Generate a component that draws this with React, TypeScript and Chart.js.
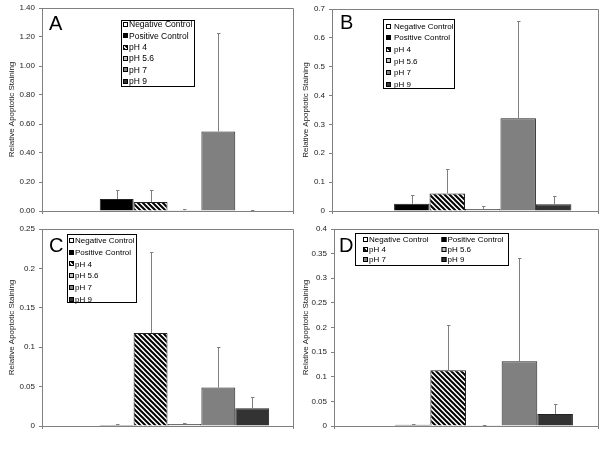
import React, { useEffect, useRef } from "react";
import { Chart, registerables } from "chart.js";

Chart.register(...registerables);

const categories = [""];
const seriesNames = ["Negative Control", "Positive Control", "pH 4", "pH 5.6", "pH 7", "pH 9"];

const valuesA = [0, 0.083, 0.062, 0.005, 0.549, 0.003];
const errorsA = [0, 0.065, 0.086, 0.012, 0.676, 0.005];
const ticksA = [0, 0.2, 0.4, 0.6, 0.8, 1.0, 1.2, 1.4];

const valuesB = [0, 0.025, 0.061, 0.007, 0.321, 0.023];
const errorsB = [0, 0.03, 0.085, 0.011, 0.339, 0.028];
const ticksB = [0, 0.1, 0.2, 0.3, 0.4, 0.5, 0.6, 0.7];

const valuesC = [0, 0.0013, 0.118, 0.0025, 0.0487, 0.0225];
const errorsC = [0, 0.0012, 0.103, 0.0015, 0.051, 0.0148];
const ticksC = [0, 0.05, 0.1, 0.15, 0.2, 0.25];

const valuesD = [0, 0.0027, 0.113, 0.0014, 0.1315, 0.0244];
const errorsD = [0, 0.002, 0.092, 0.0013, 0.2105, 0.0196];
const ticksD = [0, 0.05, 0.1, 0.15, 0.2, 0.25, 0.3, 0.35, 0.4];

const FONT = "Arial, 'Liberation Sans', sans-serif";
const AXIS_GRAY = "#808080";

function makeHatch(): CanvasPattern | string {
  const s = 5;
  const c = document.createElement("canvas");
  c.width = s;
  c.height = s;
  const g = c.getContext("2d");
  if (!g) return "#888";
  g.fillStyle = "#fff";
  g.fillRect(0, 0, s, s);
  g.strokeStyle = "#000";
  g.lineWidth = 2;
  g.beginPath();
  for (const k of [-s, 0, s]) {
    g.moveTo(k - 1, -1);
    g.lineTo(k + s + 1, s + 1);
  }
  g.stroke();
  const p = g.createPattern(c, "repeat");
  return p || "#888";
}

function fills(): (string | CanvasPattern)[] {
  return ["#ffffff", "#000000", makeHatch(), "#c0c0c0", "#808080", "#333333"];
}

const decorPlugin = {
  id: "panelDecor",
  afterDatasetsDraw(chart: any, _args: any, opts: any) {
    const ctx: CanvasRenderingContext2D = chart.ctx;
    const { left, top, right, bottom } = chart.chartArea;
    ctx.save();
    ctx.strokeStyle = AXIS_GRAY;
    ctx.lineWidth = 1;
    ctx.beginPath();
    ctx.moveTo(Math.round(left), Math.round(top) + 0.5);
    ctx.lineTo(Math.round(right) + 0.5, Math.round(top) + 0.5);
    ctx.lineTo(Math.round(right) + 0.5, Math.round(bottom));
    ctx.stroke();

    const ys = chart.scales.y;
    chart.data.datasets.forEach((ds: any, i: number) => {
      const err = opts.errors[i];
      if (!err) return;
      const bar = chart.getDatasetMeta(i).data[0];
      const x = Math.round(bar.x) + 0.5;
      const y0 = bar.y;
      const y1 = Math.round(ys.getPixelForValue(ds.data[0] + err)) + 0.5;
      ctx.strokeStyle = AXIS_GRAY;
      ctx.beginPath();
      ctx.moveTo(x, y0);
      ctx.lineTo(x, y1);
      ctx.moveTo(x - 1.5, y1);
      ctx.lineTo(x + 2, y1);
      ctx.stroke();
    });

    const lg = opts.legend;
    ctx.fillStyle = "#fff";
    ctx.fillRect(lg.x, lg.y, lg.w, lg.h);
    ctx.strokeStyle = "#000";
    ctx.strokeRect(lg.x + 0.5, lg.y + 0.5, lg.w, lg.h);
    ctx.font = `${lg.font}px ${FONT}`;
    ctx.textBaseline = "middle";
    ctx.textAlign = "left";
    const fillList = chart.data.datasets.map((d: any) => d.backgroundColor);
    seriesNames.forEach((name, i) => {
      const col = i % lg.cols;
      const row = Math.floor(i / lg.cols);
      const sx = lg.colX[col];
      const cy = lg.rowStart + row * lg.rowStep;
      const sz = 5;
      ctx.fillStyle = fillList[i];
      ctx.fillRect(sx, Math.round(cy - sz / 2), sz, sz);
      ctx.strokeStyle = "#000";
      ctx.strokeRect(sx + 0.5, Math.round(cy - sz / 2) + 0.5, sz - 1, sz - 1);
      ctx.fillStyle = "#000";
      ctx.fillText(name, sx + sz + lg.gap, cy + 0.5);
    });

    ctx.font = `20px ${FONT}`;
    ctx.textBaseline = "alphabetic";
    ctx.fillStyle = "#000";
    ctx.fillText(opts.letter, opts.letterX, opts.letterY);
    ctx.restore();
  },
};

type PanelProps = {
  values: number[];
  errors: number[];
  ticks: number[];
  fmt: (v: number) => string;
  left: number;
  top: number;
  right: number;
  bottom: number;
  catPct: number;
  titlePad: number;
  letter: string;
  letterX: number;
  letterY: number;
  legend: any;
};

const W = 300;
const H = 225;

function Panel(p: PanelProps) {
  const ref = useRef<HTMLCanvasElement>(null);
  useEffect(() => {
    if (!ref.current) return;
    const f = fills();
    const chart = new Chart(ref.current, {
      type: "bar",
      data: {
        labels: categories,
        datasets: seriesNames.map((name, i) => ({
          label: name,
          data: [p.values[i]],
          backgroundColor: f[i] as any,
          borderColor: "#222",
          borderWidth: 1,
          barPercentage: 1,
          categoryPercentage: p.catPct,
        })),
      },
      options: {
        responsive: false,
        animation: false,
        events: [],
        layout: { padding: { left: 0, top: p.top, right: W - p.right, bottom: 0 } },
        plugins: {
          legend: { display: false },
          tooltip: { enabled: false },
          panelDecor: {
            errors: p.errors,
            legend: p.legend,
            letter: p.letter,
            letterX: p.letterX,
            letterY: p.letterY,
          },
        } as any,
        scales: {
          x: {
            ticks: { display: false },
            grid: {
              offset: true,
              drawOnChartArea: false,
              drawTicks: true,
              tickLength: 3,
              color: AXIS_GRAY,
            },
            border: { display: true, color: AXIS_GRAY },
            afterFit: (s: any) => {
              s.height = H - p.bottom;
              s.paddingLeft = 0;
              s.paddingRight = 0;
            },
          },
          y: {
            min: 0,
            max: p.ticks[p.ticks.length - 1],
            afterBuildTicks: (s: any) => {
              s.ticks = p.ticks.map((v) => ({ value: v }));
            },
            ticks: {
              callback: (v: any) => p.fmt(Number(v)),
              font: { size: 8, family: FONT },
              color: "#222",
              padding: 4,
            },
            grid: {
              drawOnChartArea: false,
              drawTicks: true,
              tickLength: 3,
              color: AXIS_GRAY,
            },
            border: { display: true, color: AXIS_GRAY },
            title: {
              display: true,
              text: "Relative Apoptotic Staining",
              font: { size: 8, family: FONT },
              color: "#222",
              padding: { top: p.titlePad, bottom: 2 },
            },
            afterFit: (s: any) => {
              s.width = p.left;
              s.paddingTop = 0;
              s.paddingBottom = 0;
            },
          },
        },
      },
      plugins: [decorPlugin as any],
    });
    return () => chart.destroy();
  }, []);
  return <canvas ref={ref} width={W} height={H} style={{ display: "block", width: W, height: H }} />;
}

const fmt2 = (v: number) => v.toFixed(2);
const fmtShort = (v: number) => String(Number(v.toFixed(3)));

export default function App() {
  return (
    <div style={{ position: "absolute", left: 0, top: 0, width: 600, height: 450, background: "#fff" }}>
      <div style={{ position: "absolute", left: 0, top: 0 }}>
        <Panel
          values={valuesA}
          errors={errorsA}
          ticks={ticksA}
          fmt={fmt2}
          left={42}
          top={8}
          right={293}
          bottom={211}
          catPct={0.81}
          titlePad={7}
          letter="A"
          letterX={49}
          letterY={30}
          legend={{ x: 121, y: 20, w: 73, h: 66, cols: 1, colX: [123], rowStart: 24.5, rowStep: 11.3, font: 8.5, gap: 1 }}
        />
      </div>
      <div style={{ position: "absolute", left: 300, top: 0 }}>
        <Panel
          values={valuesB}
          errors={errorsB}
          ticks={ticksB}
          fmt={fmtShort}
          left={32}
          top={9}
          right={298}
          bottom={211}
          catPct={0.8}
          titlePad={1}
          letter="B"
          letterX={40}
          letterY={29}
          legend={{ x: 83, y: 19, w: 71, h: 69, cols: 1, colX: [86], rowStart: 26, rowStep: 11.6, font: 8, gap: 3 }}
        />
      </div>
      <div style={{ position: "absolute", left: 0, top: 225 }}>
        <Panel
          values={valuesC}
          errors={errorsC}
          ticks={ticksC}
          fmt={fmtShort}
          left={42}
          top={4}
          right={293}
          bottom={201}
          catPct={0.81}
          titlePad={7}
          letter="C"
          letterX={49}
          letterY={27}
          legend={{ x: 67, y: 9, w: 69, h: 68, cols: 1, colX: [69], rowStart: 15.5, rowStep: 11.7, font: 8, gap: 1 }}
        />
      </div>
      <div style={{ position: "absolute", left: 300, top: 225 }}>
        <Panel
          values={valuesD}
          errors={errorsD}
          ticks={ticksD}
          fmt={fmtShort}
          left={34}
          top={4}
          right={298}
          bottom={201}
          catPct={0.81}
          titlePad={1}
          letter="D"
          letterX={39}
          letterY={27}
          legend={{ x: 55, y: 8, w: 153, h: 32, cols: 2, colX: [63, 141.5], rowStart: 14, rowStep: 10.3, font: 8, gap: 1 }}
        />
      </div>
    </div>
  );
}
